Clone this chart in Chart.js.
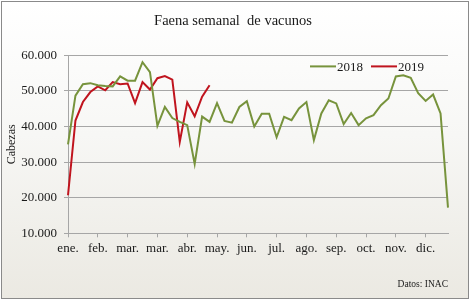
<!DOCTYPE html>
<html>
<head>
<meta charset="utf-8">
<script src="https://cdn.jsdelivr.net/npm/chart.js@4.4.1/dist/chart.umd.min.js"></script>
<style>
  html, body { margin: 0; padding: 0; background: #ffffff; }
  #marco {
    position: absolute; left: 1px; top: 1px; width: 466px; height: 296px;
    border: 1px solid #8a8a8a;
    background: linear-gradient(to bottom, #ffffff 0%, #f7f7f5 45%, #ebe9e2 100%);
  }
  #lienzo { position: absolute; left: 0; top: 0; width: 470px; height: 300px; }
</style>
</head>
<body>
<div id="marco"></div>
<canvas id="lienzo" width="470" height="300"></canvas>
<script>
// semanas del año (eje x)
const semanas = [1, 2, 3, 4, 5, 6, 7, 8, 9, 10, 11, 12, 13, 14, 15, 16, 17, 18, 19, 20,
    21, 22, 23, 24, 25, 26, 27, 28, 29, 30, 31, 32, 33, 34, 35, 36, 37, 38, 39, 40,
    41, 42, 43, 44, 45, 46, 47, 48, 49, 50, 51, 52];

// etiquetas cada 4 semanas
const etiquetasMes = ['ene.', 'feb.', 'mar.', 'mar.', 'abr.', 'may.', 'jun.',
    'jul.', 'ago.', 'sep.', 'oct.', 'nov.', 'dic.'];

// faena semanal (cabezas)
const faena2018 = [35000, 48700, 51900, 52200, 51600, 51400, 51300, 54100, 52900, 52900,
    58100, 55300, 40200, 45500, 42400, 41300, 40400, 29500, 42800, 41300,
    46600, 41600, 41100, 45500, 47100, 40000, 43600, 43600, 37000, 42700,
    41800, 45100, 46900, 36200, 43700, 47400, 46500, 40700, 43800, 40400,
    42300, 43200, 46000, 47900, 54100, 54400, 53700, 49400, 47200, 49000,
    43700, 17200];

const faena2019 = [20700, 41700, 46900, 49700, 51300, 50200, 52500, 51900, 52100, 46600,
    52500, 50400, 53600, 54200, 53200, 35700, 46800, 42900, 48400, 51600];

const fuente = "'Liberation Serif', 'Times New Roman', serif";
const gris = '#a6a6a6';

function separador(v) {
    return String(v).replace(/\B(?=(\d{3})+(?!\d))/g, '.');
}

// leyenda dibujada dentro del área del gráfico, arriba a la derecha
const leyendaInterna = {
    id: 'leyendaInterna',
    afterDraw(chart) {
        const ctx = chart.ctx;
        const area = chart.chartArea;
        const y = area.top + 11;
        let x = area.right - 138;
        ctx.save();
        ctx.font = '13px ' + fuente;
        ctx.textBaseline = 'middle';
        ctx.textAlign = 'left';
        chart.data.datasets.forEach(function (ds) {
            ctx.strokeStyle = ds.borderColor;
            ctx.lineWidth = 2;
            ctx.beginPath();
            ctx.moveTo(x, y);
            ctx.lineTo(x + 26, y);
            ctx.stroke();
            ctx.fillStyle = '#1a1a1a';
            ctx.fillText(ds.label, x + 27, y + 1);
            x += 61;
        });
        ctx.restore();
    }
};

const ctx = document.getElementById('lienzo').getContext('2d');

new Chart(ctx, {
    type: 'line',
    data: {
        labels: semanas,
        datasets: [{
            label: '2018',
            data: faena2018,
            borderColor: '#77933c',
            borderWidth: 2,
            pointRadius: 0,
            tension: 0
        }, {
            label: '2019',
            data: faena2019,
            borderColor: '#c0141e',
            borderWidth: 2,
            pointRadius: 0,
            tension: 0
        }]
    },
    options: {
        responsive: false,
        animation: false,
        devicePixelRatio: 1,
        layout: { padding: { left: 18, right: 22, top: 0, bottom: 0 } },
        plugins: {
            legend: { display: false },
            tooltip: { enabled: false },
            title: {
                display: true,
                text: 'Faena semanal  de vacunos',
                color: '#1a1a1a',
                font: { family: fuente, size: 14.5, weight: 'normal' },
                padding: { top: 12, bottom: 26 }
            },
            subtitle: {
                display: true,
                text: 'Datos: INAC',
                position: 'bottom',
                align: 'end',
                color: '#1a1a1a',
                font: { family: fuente, size: 9.5, weight: 'normal' },
                padding: { top: 0, bottom: 10 }
            }
        },
        scales: {
            x: {
                offset: false,
                grid: {
                    drawOnChartArea: false,
                    drawTicks: true,
                    tickLength: 4,
                    color: gris
                },
                border: { display: true, color: gris },
                ticks: {
                    autoSkip: false,
                    maxRotation: 0,
                    padding: 3,
                    color: '#1a1a1a',
                    font: { family: fuente, size: 13 },
                    callback: function (valor, indice) {
                        return indice % 4 === 0 ? etiquetasMes[indice / 4] : null;
                    }
                },
                afterFit: function (s) { s.height = 45.3; }
            },
            y: {
                min: 10000,
                max: 60000,
                grid: { color: gris, tickLength: 4, lineWidth: 1 },
                border: { display: true, color: gris },
                ticks: {
                    stepSize: 10000,
                    padding: 7,
                    color: '#1a1a1a',
                    font: { family: fuente, size: 13 },
                    callback: function (v) { return separador(v); }
                },
                title: {
                    display: true,
                    text: 'Cabezas',
                    color: '#1a1a1a',
                    font: { family: fuente, size: 12 },
                    padding: { top: -13, bottom: 0 }
                },
                afterFit: function (s) { s.width = 50; }
            }
        }
    },
    plugins: [leyendaInterna]
});
</script>
</body>
</html>
